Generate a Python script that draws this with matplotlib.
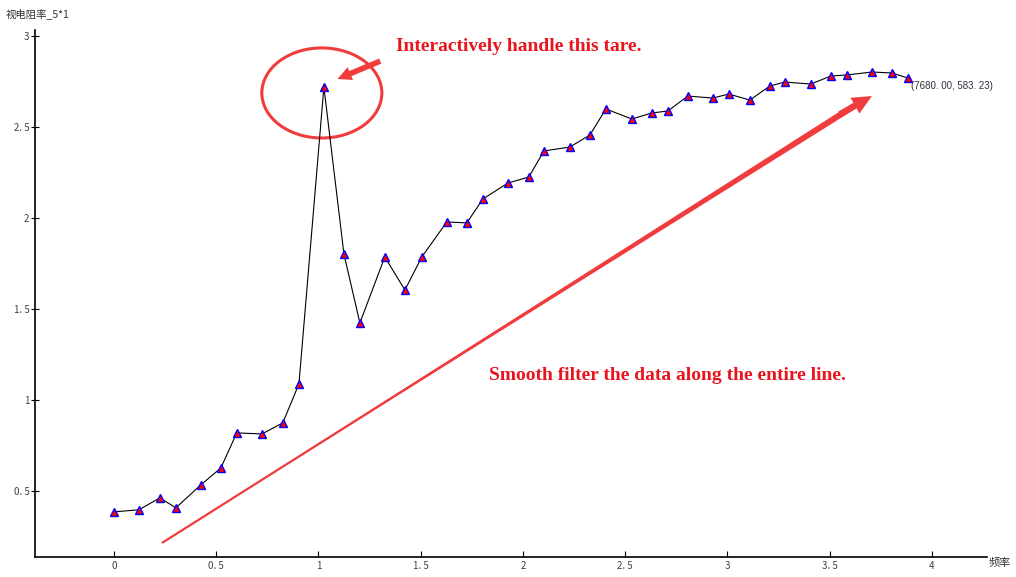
import numpy as np
import matplotlib.pyplot as plt
from matplotlib.patches import Ellipse

plt.rcParams['font.family'] = ['Noto Sans CJK SC', 'DejaVu Sans']

# data
freq = [0.000, 0.122, 0.225, 0.303, 0.425, 0.523, 0.601, 0.724, 0.826, 0.905,
        1.027, 1.125, 1.203, 1.325, 1.423, 1.506, 1.628, 1.726, 1.804, 1.927,
        2.029, 2.103, 2.230, 2.328, 2.406, 2.533, 2.631, 2.709, 2.807, 2.929,
        3.007, 3.110, 3.208, 3.281, 3.408, 3.506, 3.584, 3.707, 3.804, 3.883]
rho = [0.385, 0.396, 0.462, 0.407, 0.533, 0.626, 0.819, 0.813, 0.874, 1.088,
       2.720, 1.802, 1.423, 1.786, 1.604, 1.786, 1.978, 1.973, 2.104, 2.192,
       2.225, 2.368, 2.390, 2.456, 2.599, 2.544, 2.577, 2.588, 2.670, 2.659,
       2.681, 2.648, 2.725, 2.747, 2.736, 2.780, 2.786, 2.802, 2.797, 2.769]
xticks = [0, 0.5, 1, 1.5, 2, 2.5, 3, 3.5, 4]
yticks = [0.5, 1, 1.5, 2, 2.5, 3]
last_label = '(7680. 00, 583. 23)'

red = '#f03c3c'
textred = '#e8141e'

fig = plt.figure(figsize=(10.16, 5.77), dpi=100)
ax = fig.add_axes([0.0344, 0.0347, 0.9371, 0.9133])

ax.plot(freq, rho, color='black', lw=0.8, marker='^', markersize=5.5,
        markerfacecolor='red', markeredgecolor='blue', markeredgewidth=1.0, zorder=3)

ax.set_xlim(-0.386, 4.27)
ax.set_ylim(0.137, 3.033)
ax.set_xticks(xticks)
ax.set_xticklabels([f'{t:g}'.replace('.', '. ') for t in xticks])
ax.set_yticks(yticks)
ax.set_yticklabels([f'{t:g}'.replace('.', '. ') for t in yticks])
ax.tick_params(axis='x', direction='in', length=4, labelsize=7, colors='black',
               labelcolor='#404040', pad=3)
ax.tick_params(axis='y', direction='inout', length=6, labelsize=7, colors='black',
               labelcolor='#404040', pad=1)
for s in ['top', 'right']:
    ax.spines[s].set_visible(False)
for s in ['left', 'bottom']:
    ax.spines[s].set_linewidth(1.2)

fig.text(0.005, 0.985, '视电阻率_5*1', fontsize=7.5, color='#303030', va='top', ha='left')
fig.text(0.973, 0.025, '频率', fontsize=8, color='#303030', va='center', ha='left')

ax.annotate(last_label, (freq[-1], rho[-1]), xytext=(2, -6), textcoords='offset points',
            fontsize=7, color='#303040', va='center', ha='left',
            family=['Liberation Sans', 'DejaVu Sans'])

# overlay annotations
ax.add_patch(Ellipse((1.017, 2.687), 0.587, 0.495, fill=False, edgecolor=red, lw=2.2))
ax.annotate('', xy=(1.081, 2.758), xytext=(1.315, 2.868),
            arrowprops=dict(arrowstyle='simple,head_length=1.0,head_width=1.0,tail_width=0.4',
                            color=red, lw=0))
ax.text(1.379, 2.94, 'Interactively handle this tare.', color=textred, fontsize=14,
        fontweight='bold', family='Liberation Serif', va='center', ha='left')

# long tapered arrow: thin line + wedge body widening toward the head, plus a head
ax.plot([0.235, 3.6], [0.214, 2.602], color=red, lw=1.6, solid_capstyle='butt')
ax.annotate('', xy=(0.235, 0.214), xytext=(3.62, 2.615),
            arrowprops=dict(arrowstyle='wedge,tail_width=0.45,shrink_factor=0.5',
                            color=red, lw=0, shrinkA=0, shrinkB=0))
ax.annotate('', xy=(3.707, 2.670), xytext=(3.55, 2.570),
            arrowprops=dict(arrowstyle='simple,head_length=1.4,head_width=1.3,tail_width=0.45',
                            color=red, lw=0, shrinkA=0, shrinkB=0))
ax.text(1.834, 1.132, 'Smooth filter the data along the entire line.', color=textred,
        fontsize=14, fontweight='bold', family='Liberation Serif', va='center', ha='left')

fig.savefig('out.png', dpi=100)
